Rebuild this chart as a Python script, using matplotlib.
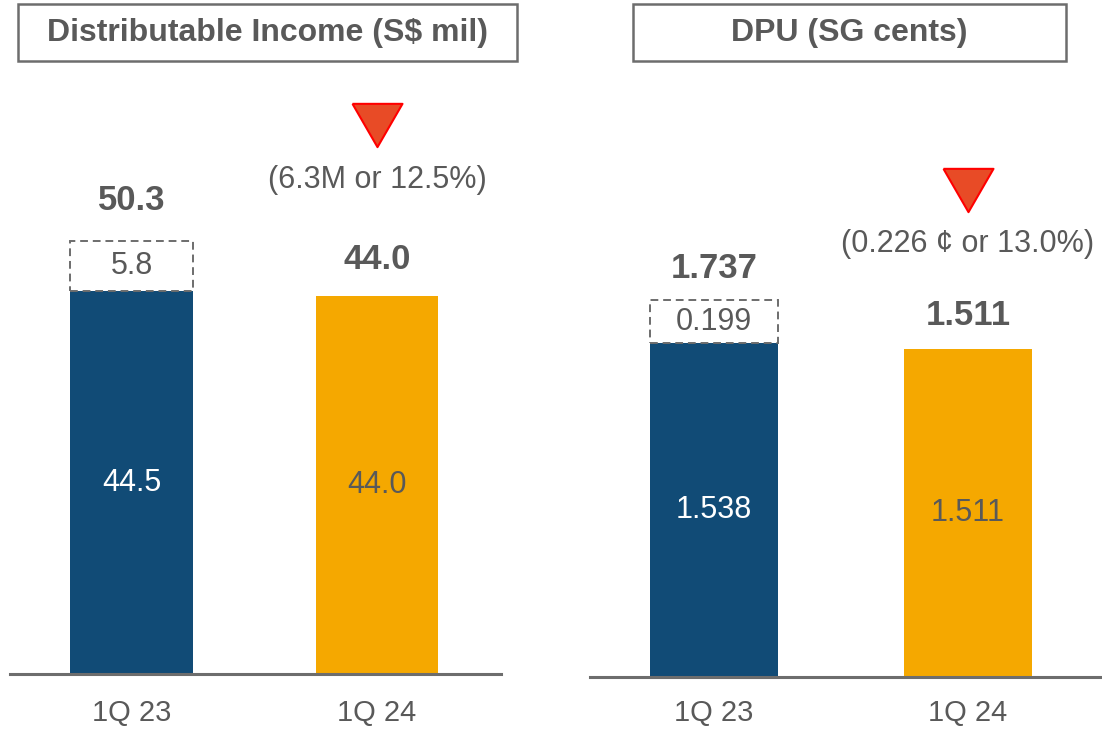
import matplotlib
matplotlib.use("Agg")
import matplotlib.pyplot as plt
from matplotlib.patches import Rectangle
from matplotlib.transforms import ScaledTranslation

plt.rcParams['font.family'] = ['Liberation Sans', 'DejaVu Sans']

# data
quarters = ['1Q 23', '1Q 24']
income_base = [44.5, 44.0]
income_extra = [5.8, 0]
income_total = [50.3, 44.0]
income_change = '(6.3M or 12.5%)'

dpu_base = [1.538, 1.511]
dpu_extra = [0.199, 0]
dpu_total = [1.737, 1.511]
dpu_change = '(0.226 \u00a2 or 13.0%)'

blue = '#114B76'
orange = '#F5A800'
grey = '#595959'

fig = plt.figure(figsize=(11.02, 7.29), dpi=100)


def panel(rect, xlim, ylim, base, extra, total, fmt, change,
          total_off, change_off, width, pad):
    ax = fig.add_axes(rect)
    x = range(len(quarters))
    ax.bar(x, base, width=width, color=[blue, orange])
    for i in x:
        if extra[i] > 0:
            ax.bar(i, extra[i], bottom=base[i], width=width, fill=False,
                   edgecolor='#6d6d6d', linestyle=(0, (4, 2.5)), lw=1.4)
            ax.text(i, base[i] + extra[i] / 2, fmt.format(extra[i]),
                    ha='center', va='center', fontsize=22, color=grey)
        ax.text(i, base[i] / 2, fmt.format(base[i]), ha='center',
                va='center', fontsize=22,
                color='white' if i == 0 else grey)
        ax.annotate(fmt.format(total[i]), (i, total[i]),
                    xytext=(0, total_off[i]), textcoords='offset points',
                    ha='center', va='center', fontsize=25,
                    fontweight='bold', color=grey)
    # change indicator above the latest bar
    ax.annotate(change, (1, total[1]), xytext=(0, change_off),
                textcoords='offset points', ha='center', va='center',
                fontsize=22, color=grey)
    tri = [(-1, 0.866), (1, 0.866), (0, -0.866), (-1, 0.866)]
    shift = ScaledTranslation(0, (change_off + 39) / 72, fig.dpi_scale_trans)
    ax.plot([1], [total[1]], linestyle='none', marker=tri, markersize=36,
            markerfacecolor='#E84B26', markeredgecolor='#FF0000',
            markeredgewidth=1.5, transform=ax.transData + shift,
            clip_on=False)
    ax.set_xlim(*xlim)
    ax.set_ylim(*ylim)
    ax.set_xticks(list(x))
    ax.set_xticklabels(quarters, fontsize=21, color=grey)
    ax.tick_params(axis='x', length=0, pad=pad)
    ax.set_yticks([])
    for s in ['top', 'left', 'right']:
        ax.spines[s].set_visible(False)
    ax.spines['bottom'].set_color('#6d6d6d')
    ax.spines['bottom'].set_linewidth(2.2)
    return ax


panel([10 / 1102, 55 / 729, 491 / 1102, 584 / 729], (-0.495, 1.505),
      (0, 584 / 8.6), income_base, income_extra, income_total, '{:.1f}',
      income_change, [29.5, 26], 83.5, 0.5, 18)
panel([590 / 1102, 52 / 729, 510 / 1102, 587 / 729], (-0.488, 1.52),
      (0, 587 / 217), dpu_base, dpu_extra, dpu_total, '{:.3f}',
      dpu_change, [23, 24.5], 75.6, 0.504, 16)

# title boxes
for x0, w, title in [(18, 499, 'Distributable Income (S$ mil)'),
                     (633, 433, 'DPU (SG cents)')]:
    fig.patches.append(Rectangle((x0 / 1102, (729 - 61) / 729), w / 1102,
                                 57 / 729, transform=fig.transFigure,
                                 fill=False, edgecolor='#6d6d6d', lw=1.8))
    fig.text((x0 + w / 2) / 1102, (729 - 33) / 729, title, ha='center',
             va='center', fontsize=23, fontweight='bold', color=grey)

fig.savefig('out.png', dpi=100)
